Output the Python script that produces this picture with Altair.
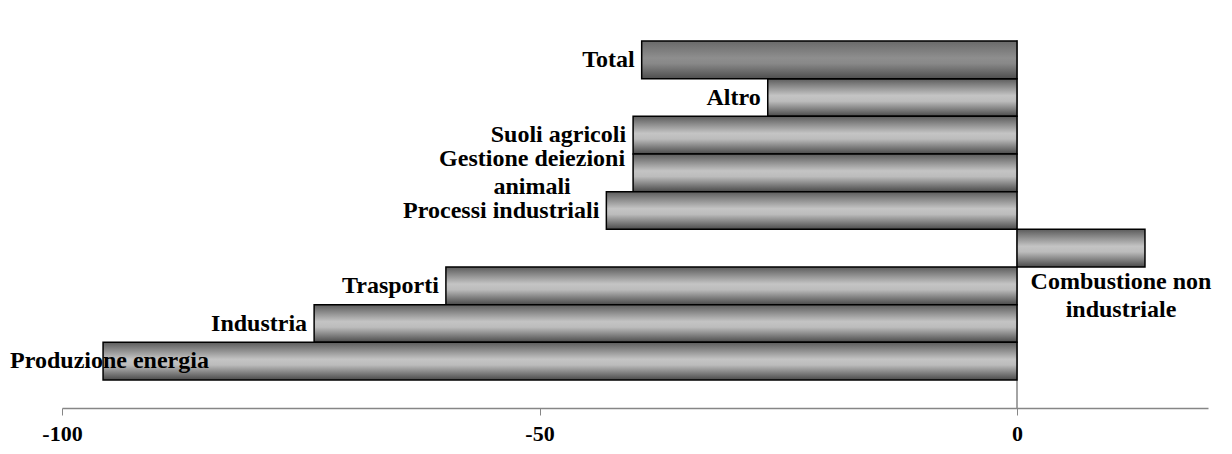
import altair as alt
import pandas as pd

categories = [
    "Total",
    "Altro",
    "Suoli agricoli",
    "Gestione deiezioni animali",
    "Processi industriali",
    "Combustione non industriale",
    "Trasporti",
    "Industria",
    "Produzione energia",
]
values = [-39.3, -26.1, -40.2, -40.2, -43.0, 13.4, -59.8, -73.6, -95.7]
label_text = [
    "Total",
    "Altro",
    "Suoli agricoli",
    "Gestione deiezioni\nanimali",
    "Processi industriali",
    "Combustione non\nindustriale",
    "Trasporti",
    "Industria",
    "Produzione energia",
]
tick_values = [-100, -50, 0]
x_domain = [-100, 20]

df = pd.DataFrame({"cat": categories, "v": values, "label": label_text})

FONT = "Liberation Serif"
FS = 24

xscale = alt.Scale(domain=x_domain, nice=False, zero=False)
xaxis = alt.Axis(
    values=tick_values,
    offset=28,
    title=None,
    grid=False,
    domainColor="#868686",
    domainWidth=1.5,
    tickColor="#868686",
    tickWidth=1,
    tickSize=7,
    labelFont=FONT,
    labelFontSize=22,
    labelFontWeight="bold",
    labelColor="#000000",
    labelPadding=8,
    labelFlush=False,
    labelExpr="datum.value < 0 ? '-' + abs(datum.value) : '' + datum.value",
)
X = alt.X("v:Q", scale=xscale, axis=xaxis)
Y = alt.Y("cat:N", sort=categories,
          scale=alt.Scale(paddingInner=0, paddingOuter=0), axis=None)

base = alt.Chart(df)

grad_normal = alt.Gradient(
    gradient="linear", x1=0, x2=0, y1=0, y2=1,
    stops=[
        alt.GradientStop(offset=0, color="#5c5c5c"),
        alt.GradientStop(offset=0.45, color="#c4c4c4"),
        alt.GradientStop(offset=0.6, color="#bcbcbc"),
        alt.GradientStop(offset=1, color="#4a4a4a"),
    ],
)
grad_total = alt.Gradient(
    gradient="linear", x1=0, x2=0, y1=0, y2=1,
    stops=[
        alt.GradientStop(offset=0, color="#6a6a6a"),
        alt.GradientStop(offset=0.45, color="#8e8e8e"),
        alt.GradientStop(offset=0.6, color="#888888"),
        alt.GradientStop(offset=1, color="#4e4e4e"),
    ],
)

zero_rule = base.transform_filter("datum.cat == 'Total'").transform_calculate(
    zero="0"
).mark_rule(color="#868686", strokeWidth=1.5).encode(
    x=alt.X("zero:Q", scale=xscale, axis=xaxis), y=alt.value(-1), y2=alt.value(367)
)

bars_other = base.transform_filter("datum.cat != 'Total'").mark_bar(
    fill=grad_normal, stroke="#000000", strokeWidth=1.5
).encode(x=X, x2=alt.datum(0), y=Y)

bars_total = base.transform_filter("datum.cat == 'Total'").mark_bar(
    fill=grad_total, stroke="#000000", strokeWidth=1.5
).encode(x=X, x2=alt.datum(0), y=Y)

text_kw = dict(font=FONT, fontSize=FS, fontWeight="bold", color="#000000",
               lineBreak="\n", lineHeight=28, baseline="middle")

single = ["Total", "Altro", "Suoli agricoli", "Processi industriali",
          "Trasporti", "Industria"]
lab_single = base.transform_filter(
    alt.FieldOneOfPredicate(field="cat", oneOf=single)
).mark_text(align="right", dx=-7, **text_kw).encode(x=X, y=Y, text="label:N")

lab_gest = base.transform_filter(
    "datum.cat == 'Gestione deiezioni animali'"
).mark_text(align="center", dx=-101, dy=-14, **text_kw).encode(x=X, y=Y, text="label:N")

lab_prod = base.transform_filter(
    "datum.cat == 'Produzione energia'"
).mark_text(align="left", dx=-93, **text_kw).encode(x=X, y=Y, text="label:N")

lab_comb = base.transform_filter(
    "datum.cat == 'Combustione non industriale'"
).mark_text(align="center", dx=-24, dy=34, **text_kw).encode(x=X, y=Y, text="label:N")

chart = alt.layer(
    zero_rule, bars_other, bars_total, lab_single, lab_gest, lab_prod, lab_comb
).properties(
    width=1146,
    height=339,
    padding={"left": 54, "top": 33, "right": 16, "bottom": 66},
    autosize=alt.AutoSizeParams(type="none"),
    background="#ffffff",
).configure_view(stroke=None)

chart.save("out.html", embed_options={"renderer": "svg", "actions": False})
